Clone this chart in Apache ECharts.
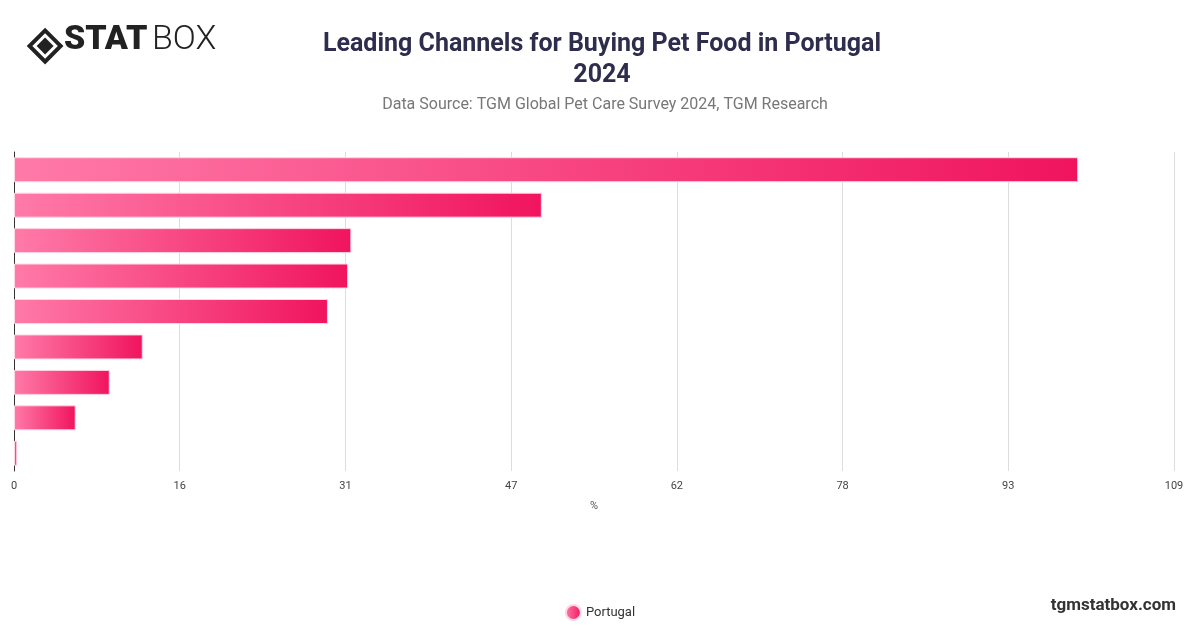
<!DOCTYPE html>
<html>
<head>
<meta charset="utf-8">
<script src="https://cdn.jsdelivr.net/npm/echarts@6/dist/echarts.min.js"></script>
<style>
	html,body{margin:0;padding:0;background:#fff;}
	#main{width:1200px;height:628px;}
</style>
</head>
<body>
<div id="main"></div>
<script type="text/javascript">
// channels (labels are hidden in the original chart)
var categories = ['Supermarkets / hypermarkets','Pet stores','Online marketplaces','Veterinary clinics','Pet store websites','Discount stores','Garden centres','Other','None'];
var values = [100, 49.6, 31.7, 31.4, 29.5, 12.1, 9.0, 5.8, 0.3];
var tickMax = 109;

var myChart = echarts.init(document.getElementById('main'));
var option = {
	animation: false,
	title: [{
		text: 'Leading Channels for Buying Pet Food in Portugal\n2024',
		left: 597, top: 24, textAlign: 'center',
		textStyle: {fontFamily: 'Roboto', fontSize: 25, fontWeight: 'bold', color: '#2e2d4d', lineHeight: 31}
	},{
		text: 'Data Source: TGM Global Pet Care Survey 2024, TGM Research',
		left: 600, top: 92, textAlign: 'center',
		textStyle: {fontFamily: 'Roboto', fontSize: 16, fontWeight: 'normal', color: '#777'}
	}],
	graphic: [
		{type: 'group', left: 26, top: 27, children: [
			{type: 'rect', shape: {x: 0, y: 0, width: 22, height: 22}, rotation: Math.PI/4, origin: [11, 11], style: {fill: 'none', stroke: '#222', lineWidth: 4}},
			{type: 'rect', shape: {x: 5, y: 5, width: 12, height: 12}, rotation: Math.PI/4, origin: [11, 11], style: {fill: '#222'}}
		]},
		{type: 'text', left: 64, top: 23, style: {text: 'STAT', font: '900 34px Roboto', fill: '#222'}},
		{type: 'text', left: 152, top: 23, style: {text: 'BOX', font: '300 34px Roboto', fill: '#222'}},
		{type: 'text', right: 24, top: 597, style: {text: 'tgmstatbox.com', font: 'bold 17px Roboto', fill: '#333'}}
	],
	legend: {
		bottom: 2, left: 'center', icon: 'circle', itemWidth: 15, itemHeight: 15,
		data: ['Portugal'],
		textStyle: {fontFamily: 'Roboto', fontSize: 13, color: '#333'}
	},
	grid: {left: 14, right: 26, top: 152, bottom: 157, containLabel: false},
	xAxis: {
		type: 'value', min: 0, max: tickMax, interval: tickMax / 7,
		name: '%', nameLocation: 'middle', nameGap: 30,
		nameTextStyle: {fontFamily: 'Roboto', fontSize: 11, color: '#555'},
		axisLabel: {fontFamily: 'Roboto', fontSize: 11, color: '#444', margin: 10, formatter: function(v){ return Math.round(v); }},
		splitLine: {lineStyle: {color: '#ddd'}},
		axisLine: {show: false}
	},
	yAxis: {
		type: 'category', data: categories, inverse: true,
		axisLabel: {show: false}, axisTick: {show: false},
		axisLine: {show: true, lineStyle: {color: '#333'}}
	},
	series: [{
		name: 'Portugal', type: 'bar', data: values, barWidth: 25,
		itemStyle: {
			borderColor: '#ffd6e4', borderWidth: 1,
			color: new echarts.graphic.LinearGradient(0, 0, 1, 0, [
				{offset: 0, color: '#ff7aa8'},
				{offset: 1, color: '#f0145e'}
			])
		}
	}]
};
myChart.setOption(option);
</script>
</body>
</html>
